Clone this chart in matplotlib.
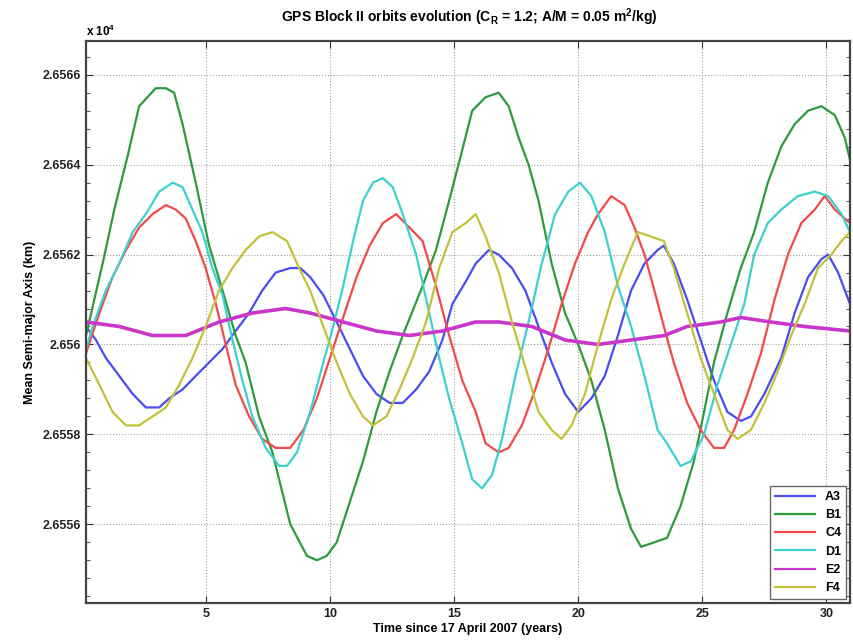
import numpy as np
import matplotlib
matplotlib.use('Agg')
import matplotlib.pyplot as plt
from matplotlib.ticker import FixedLocator, MultipleLocator

plt.rcParams['font.family'] = ['Liberation Sans', 'DejaVu Sans']
plt.rcParams['mathtext.fontset'] = 'custom'
plt.rcParams['mathtext.rm'] = 'Liberation Sans:bold'
plt.rcParams['mathtext.it'] = 'Liberation Sans:bold'
plt.rcParams['mathtext.bf'] = 'Liberation Sans:bold'

# mean semi-major axis (km) vs years since 17 April 2007
t_a3 = [0.17, 0.57, 0.97, 1.51, 2.05, 2.58, 3.12, 3.52, 4.06, 4.59, 5.13, 5.67, 6.2, 6.74, 7.27, 7.81,
        8.4, 8.8, 9.2, 9.73, 10.27, 10.8, 11.33, 11.87, 12.4, 12.93, 13.47, 14.0, 14.53, 14.93, 15.47,
        15.87, 16.4, 16.8, 17.33, 17.87, 18.4, 18.93, 19.47, 20.0, 20.53, 21.07, 21.6, 22.13, 22.67,
        23.2, 23.45, 23.85, 24.39, 24.93, 25.47, 26.01, 26.55, 26.96, 27.5, 28.18, 28.72, 29.26, 29.8,
        30.07, 30.47, 30.95]
a3 = [26560.4, 26560.1, 26559.7, 26559.3, 26558.9, 26558.6, 26558.6, 26558.8, 26559.0, 26559.3,
      26559.6, 26559.9, 26560.3, 26560.7, 26561.2, 26561.6, 26561.7, 26561.7, 26561.5, 26561.1,
      26560.5, 26559.9, 26559.3, 26558.9, 26558.7, 26558.7, 26559.0, 26559.4, 26560.1, 26560.9,
      26561.4, 26561.8, 26562.1, 26562.0, 26561.7, 26561.2, 26560.4, 26559.6, 26558.9, 26558.5,
      26558.8, 26559.3, 26560.2, 26561.2, 26561.8, 26562.1, 26562.2, 26561.8, 26561.0, 26560.1,
      26559.2, 26558.5, 26558.3, 26558.4, 26558.9, 26559.7, 26560.7, 26561.5, 26561.9, 26562.0,
      26561.6, 26560.9]

t_b1 = [0.17, 0.84, 1.31, 1.85, 2.31, 2.98, 3.39, 3.72, 4.06, 4.59, 5.13, 5.67, 6.2, 6.6, 7.14, 7.68,
        8.4, 9.07, 9.47, 9.87, 10.27, 10.8, 11.33, 11.87, 12.4, 12.93, 13.73, 14.27, 14.8, 15.27, 15.73,
        16.27, 16.8, 17.2, 17.6, 18.0, 18.4, 18.93, 19.47, 20.0, 20.53, 21.07, 21.6, 22.13, 22.53, 23.07,
        23.58, 24.12, 24.66, 25.07, 25.47, 26.01, 26.55, 27.09, 27.64, 28.18, 28.72, 29.26, 29.8, 30.34,
        30.74, 30.95]
b1 = [26560.2, 26561.8, 26563.0, 26564.2, 26565.3, 26565.7, 26565.7, 26565.6, 26564.9, 26563.6,
      26562.2, 26561.2, 26560.2, 26559.6, 26558.4, 26557.6, 26556.0, 26555.3, 26555.2, 26555.3,
      26555.6, 26556.5, 26557.4, 26558.5, 26559.4, 26560.2, 26561.3, 26562.1, 26563.2, 26564.2,
      26565.2, 26565.5, 26565.6, 26565.3, 26564.6, 26564.0, 26563.2, 26561.8, 26560.7, 26560.0,
      26559.2, 26558.1, 26556.8, 26555.9, 26555.5, 26555.6, 26555.7, 26556.4, 26557.4, 26558.5,
      26559.6, 26560.7, 26561.7, 26562.5, 26563.6, 26564.4, 26564.9, 26565.2, 26565.3, 26565.1,
      26564.6, 26564.1]

t_c4 = [0.17, 0.71, 1.24, 1.78, 2.31, 2.85, 3.39, 3.79, 4.19, 4.59, 4.99, 5.4, 5.8, 6.2, 6.74, 7.27,
        7.81, 8.4, 8.93, 9.47, 10.0, 10.53, 11.07, 11.6, 12.13, 12.67, 13.2, 13.73, 14.27, 14.8, 15.33,
        15.87, 16.27, 16.8, 17.2, 17.73, 18.27, 18.8, 19.33, 19.87, 20.4, 20.8, 21.33, 21.87, 22.27,
        22.67, 23.07, 23.45, 23.85, 24.39, 24.93, 25.47, 25.88, 26.28, 26.82, 27.36, 27.91, 28.45,
        28.99, 29.53, 29.93, 30.34, 30.74, 30.95]
c4 = [26559.8, 26560.7, 26561.5, 26562.1, 26562.6, 26562.9, 26563.1, 26563.0, 26562.8, 26562.3,
      26561.7, 26560.9, 26560.0, 26559.1, 26558.4, 26557.9, 26557.7, 26557.7, 26558.1, 26558.8,
      26559.7, 26560.6, 26561.5, 26562.2, 26562.7, 26562.9, 26562.6, 26562.3, 26561.3, 26560.2,
      26559.2, 26558.5, 26557.8, 26557.6, 26557.7, 26558.2, 26559.0, 26559.9, 26560.9, 26561.8,
      26562.5, 26562.9, 26563.3, 26563.1, 26562.6, 26562.0, 26561.2, 26560.4, 26559.6, 26558.7,
      26558.1, 26557.7, 26557.7, 26558.1, 26558.9, 26559.8, 26561.0, 26562.0, 26562.7, 26563.0,
      26563.3, 26563.0, 26562.8, 26562.7]

t_d1 = [0.17, 0.44, 0.97, 1.51, 2.05, 2.58, 3.12, 3.66, 4.06, 4.46, 4.86, 5.26, 5.67, 6.07, 6.47, 6.87,
        7.41, 7.95, 8.27, 8.67, 9.2, 9.73, 10.13, 10.53, 10.93, 11.33, 11.73, 12.13, 12.53, 12.93, 13.47,
        14.0, 14.4, 14.8, 15.33, 15.73, 16.13, 16.53, 16.93, 17.47, 18.0, 18.53, 19.07, 19.6, 20.07,
        20.53, 21.07, 21.6, 22.13, 22.67, 23.2, 23.58, 24.12, 24.53, 25.07, 25.61, 26.15, 26.69, 27.09,
        27.64, 28.18, 28.85, 29.53, 30.07, 30.61, 30.95]
d1 = [26559.9, 26560.4, 26561.2, 26561.8, 26562.5, 26562.9, 26563.4, 26563.6, 26563.5, 26563.0,
      26562.5, 26561.7, 26561.1, 26560.1, 26559.2, 26558.4, 26557.7, 26557.3, 26557.3, 26557.6,
      26558.5, 26559.6, 26560.4, 26561.3, 26562.3, 26563.2, 26563.6, 26563.7, 26563.5, 26562.9,
      26562.0, 26560.7, 26559.7, 26558.8, 26557.8, 26557.0, 26556.8, 26557.1, 26557.9, 26559.3,
      26560.5, 26561.8, 26562.9, 26563.4, 26563.6, 26563.3, 26562.5, 26561.3, 26560.4, 26559.3,
      26558.1, 26557.8, 26557.3, 26557.4, 26558.0, 26559.1, 26560.0, 26560.9, 26562.0, 26562.7,
      26563.0, 26563.3, 26563.4, 26563.3, 26562.9, 26562.5]

t_e2 = [0.17, 1.51, 2.85, 4.19, 5.53, 6.87, 8.21, 9.2, 10.53, 11.87, 13.2, 14.53, 15.87, 16.8, 18.13,
        19.47, 20.8, 22.13, 23.47, 24.39, 25.74, 26.55, 27.77, 29.12, 30.95]
e2 = [26560.5, 26560.4, 26560.2, 26560.2, 26560.5, 26560.7, 26560.8, 26560.7, 26560.5, 26560.3,
      26560.2, 26560.3, 26560.5, 26560.5, 26560.4, 26560.1, 26560.0, 26560.1, 26560.2, 26560.4,
      26560.5, 26560.6, 26560.5, 26560.4, 26560.3]

t_f4 = [0.17, 0.71, 1.24, 1.78, 2.31, 2.85, 3.39, 3.92, 4.46, 4.99, 5.53, 6.07, 6.6, 7.14, 7.68, 8.27,
        8.67, 9.2, 9.73, 10.27, 10.8, 11.33, 11.73, 12.27, 12.8, 13.33, 13.87, 14.4, 14.93, 15.47, 15.87,
        16.27, 16.8, 17.33, 17.87, 18.4, 18.93, 19.33, 19.73, 20.27, 20.8, 21.33, 21.87, 22.4, 22.93,
        23.45, 23.85, 24.39, 24.93, 25.47, 26.01, 26.42, 26.96, 27.5, 28.04, 28.58, 29.12, 29.66, 30.2,
        30.61, 30.95]
f4 = [26559.7, 26559.1, 26558.5, 26558.2, 26558.2, 26558.4, 26558.6, 26559.1, 26559.7, 26560.4,
      26561.2, 26561.7, 26562.1, 26562.4, 26562.5, 26562.3, 26561.8, 26561.2, 26560.4, 26559.6,
      26558.9, 26558.4, 26558.2, 26558.4, 26559.0, 26559.7, 26560.5, 26561.7, 26562.5, 26562.7,
      26562.9, 26562.4, 26561.6, 26560.5, 26559.5, 26558.5, 26558.1, 26557.9, 26558.2, 26558.9,
      26560.0, 26561.0, 26561.8, 26562.5, 26562.4, 26562.3, 26561.7, 26560.7, 26559.7, 26558.9,
      26558.1, 26557.9, 26558.1, 26558.7, 26559.4, 26560.2, 26560.9, 26561.7, 26562.0, 26562.3,
      26562.5]

names = ['A3', 'B1', 'C4', 'D1', 'E2', 'F4']
colors = ['#4b4bf2', '#2f9a3c', '#f24a4a', '#3dd0d0', '#c936c9', '#c2c23a']
yticks = [26556, 26558, 26560, 26562, 26564, 26566]
xticks = [5, 10, 15, 20, 25, 30]

fig = plt.figure(figsize=(8.54, 6.41), dpi=100)
ax = fig.add_axes([86/854, 1-603/641, (850-86)/854, (603-41)/641])

series = [(t_a3, a3), (t_b1, b1), (t_c4, c4), (t_d1, d1), (t_e2, e2), (t_f4, f4)]
for (tt, vv), name, col in zip(series, names, colors):
    lw = 2.6 if name == 'E2' else 1.6
    ax.plot(tt, vv, color=col, lw=lw, label=name, solid_joinstyle='round')

ax.set_xlim(0.17, 30.95)
ax.set_ylim(26554.25, 26566.75)
ax.xaxis.set_major_locator(FixedLocator(xticks))
ax.set_xticklabels([str(x) for x in xticks])
ax.yaxis.set_major_locator(FixedLocator(yticks))
ax.set_yticklabels(['%g' % (y / 1e4) for y in yticks])
ax.yaxis.set_minor_locator(MultipleLocator(0.4))
ax.tick_params(which='both', direction='in', top=True, right=True, colors='#333333',
               labelcolor='#222222', labelsize=9)
ax.tick_params(which='major', length=5, width=0.8)
ax.tick_params(which='minor', length=3, width=0.6)
for lab in ax.get_xticklabels() + ax.get_yticklabels():
    lab.set_fontweight('bold')
ax.grid(True, which='major', linestyle=':', color='#a0a0a0', lw=0.8)
for sp in ax.spines.values():
    sp.set_linewidth(1.6)
    sp.set_color('#444444')

ax.set_xlabel('Time since 17 April 2007 (years)', fontsize=9, fontweight='bold', labelpad=2)
ax.set_ylabel('Mean Semi-major Axis (km)', fontsize=9, fontweight='bold', labelpad=5)
fig.text(469/854, 1-17/641, r'GPS Block II orbits evolution (C$_R$ = 1.2; A/M = 0.05 m$^2$/kg)',
         ha='center', va='center', fontsize=10, fontweight='bold')
fig.text(86/854, 1-31/641, r'x 10$^4$', ha='left', va='center', fontsize=8.5, fontweight='bold')

leg = ax.legend(loc='lower right', fontsize=9, handlelength=3.2, borderaxespad=0.3,
                fancybox=False, edgecolor='#666666', framealpha=1, labelspacing=0.5)
for txt in leg.get_texts():
    txt.set_fontweight('bold')
for line in leg.get_lines():
    line.set_linewidth(1.6)
leg.get_frame().set_linewidth(1.0)

fig.savefig('out.png', dpi=100)
